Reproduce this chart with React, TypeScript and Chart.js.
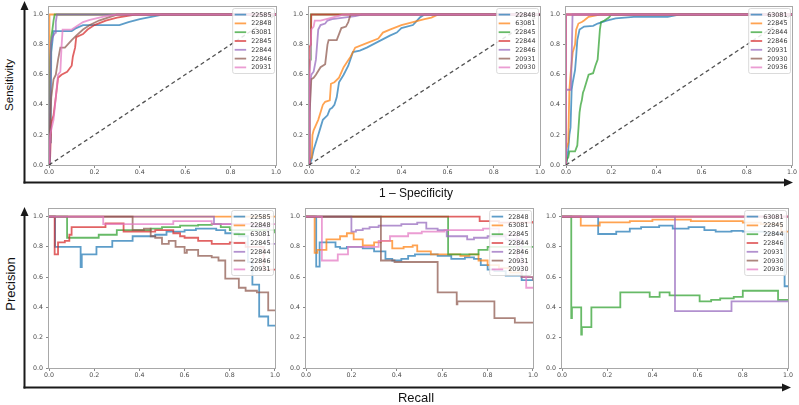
import React, { useEffect, useRef } from "react";
import { Chart, registerables } from "chart.js";

Chart.register(...registerables);

// ---------- shared axis data ----------
const AXIS_TICKS = [0, 0.2, 0.4, 0.6, 0.8, 1.0];
const X_RANGE = [0, 1];
const Y_RANGE = [0, 1.05];
const CHANCE_LINE = [
  [0, 0],
  [1, 1],
];
const SERIES_RGB = [
  "31,119,180",
  "255,127,14",
  "44,160,44",
  "214,39,40",
  "148,103,189",
  "140,86,75",
  "227,119,194",
];

// ---------- ROC panel A ----------
const ROC_A_LABELS = ["22585", "22848", "63081", "22845", "22844", "22846", "20931"];
const ROC_A_CURVES = [
  [[0, 0], [0.005, 0.15], [0.008, 0.4], [0.01, 0.75], [0.015, 0.82], [0.02, 0.89], [0.1, 0.89], [0.12, 0.91], [0.15, 0.93], [0.31, 0.93], [0.35, 0.95], [0.4, 0.97], [0.45, 0.985], [0.5, 1], [1, 1]],
  [[0, 0], [0, 0.95], [0.004, 1], [1, 1]],
  [[0, 0], [0.003, 0.3], [0.006, 0.7], [0.01, 0.85], [0.015, 0.9], [0.02, 0.96], [0.025, 1], [1, 1]],
  [[0, 0], [0.005, 0.05], [0.01, 0.28], [0.02, 0.33], [0.03, 0.45], [0.04, 0.58], [0.055, 0.6], [0.08, 0.62], [0.1, 0.66], [0.105, 0.72], [0.115, 0.78], [0.12, 0.85], [0.15, 0.87], [0.17, 0.9], [0.2, 0.93], [0.25, 0.96], [0.3, 0.98], [0.38, 1], [1, 1]],
  [[0, 0], [0.004, 0.3], [0.008, 0.8], [0.015, 0.85], [0.02, 0.86], [0.028, 0.88], [0.03, 0.95], [0.035, 1], [1, 1]],
  [[0, 0], [0.005, 0.25], [0.01, 0.45], [0.02, 0.57], [0.03, 0.6], [0.04, 0.7], [0.05, 0.78], [0.07, 0.78], [0.1, 0.83], [0.12, 0.86], [0.15, 0.9], [0.18, 0.93], [0.22, 0.96], [0.3, 1], [1, 1]],
  [[0, 0], [0.005, 0.2], [0.02, 0.3], [0.03, 0.45], [0.04, 0.6], [0.05, 0.62], [0.055, 0.78], [0.06, 0.9], [0.1, 0.9], [0.13, 0.93], [0.15, 0.95], [0.18, 0.965], [0.25, 0.99], [0.3, 1], [1, 1]],
];

// ---------- ROC panel B ----------
const ROC_B_LABELS = ["22848", "63081", "22845", "22844", "22846", "20931", "20930"];
const ROC_B_CURVES = [
  [[0, 0], [0.01, 0.03], [0.02, 0.1], [0.03, 0.15], [0.04, 0.2], [0.05, 0.25], [0.06, 0.3], [0.08, 0.33], [0.09, 0.37], [0.1, 0.38], [0.11, 0.4], [0.12, 0.45], [0.13, 0.55], [0.15, 0.6], [0.17, 0.66], [0.19, 0.75], [0.22, 0.76], [0.25, 0.78], [0.3, 0.82], [0.35, 0.86], [0.38, 0.88], [0.4, 0.91], [0.45, 0.93], [0.48, 0.98], [0.5, 1], [1, 1]],
  [[0, 0], [0.005, 0.04], [0.012, 0.05], [0.015, 0.2], [0.02, 0.23], [0.04, 0.3], [0.06, 0.4], [0.07, 0.42], [0.09, 0.43], [0.095, 0.54], [0.11, 0.55], [0.13, 0.58], [0.15, 0.65], [0.18, 0.72], [0.2, 0.78], [0.25, 0.81], [0.3, 0.84], [0.32, 0.88], [0.35, 0.9], [0.4, 0.93], [0.45, 0.95], [0.5, 0.97], [0.53, 0.98], [0.56, 1], [1, 1]],
  [[0, 0], [0, 0.6], [0.005, 0.7], [0.008, 1], [1, 1]],
  [[0, 0], [0, 0.78], [0.008, 0.8], [0.01, 1], [1, 1]],
  [[0, 0], [0.003, 0.3], [0.006, 0.55], [0.01, 0.6], [0.02, 0.62], [0.03, 0.7], [0.035, 0.8], [0.04, 0.9], [0.05, 0.93], [0.07, 0.94], [0.08, 0.96], [0.1, 0.97], [0.15, 0.98], [0.2, 0.99], [0.23, 1], [1, 1]],
  [[0, 0], [0.003, 0.35], [0.01, 0.57], [0.02, 0.58], [0.03, 0.6], [0.05, 0.65], [0.07, 0.67], [0.08, 0.8], [0.085, 0.83], [0.12, 0.83], [0.13, 0.87], [0.14, 0.91], [0.16, 0.92], [0.17, 0.95], [0.18, 1], [1, 1]],
  [[0, 0], [0, 0.2], [0.003, 0.5], [0.01, 0.9], [0.02, 0.92], [0.025, 0.96], [0.05, 0.96], [0.1, 0.98], [0.15, 1], [1, 1]],
];

// ---------- ROC panel C ----------
const ROC_C_LABELS = ["63081", "22845", "22844", "22846", "20931", "20930", "20936"];
const ROC_C_CURVES = [
  [[0, 0], [0.01, 0.1], [0.015, 0.2], [0.02, 0.25], [0.025, 0.5], [0.03, 0.55], [0.04, 0.63], [0.045, 0.72], [0.05, 0.83], [0.06, 0.9], [0.08, 0.92], [0.12, 0.925], [0.14, 0.94], [0.18, 0.96], [0.22, 0.975], [0.3, 0.985], [0.45, 0.985], [0.5, 1], [1, 1]],
  [[0, 0], [0, 0.1], [0.01, 0.15], [0.015, 0.5], [0.02, 0.6], [0.03, 0.75], [0.04, 0.8], [0.045, 0.9], [0.055, 0.94], [0.07, 0.95], [0.08, 0.96], [0.1, 0.985], [0.15, 1], [1, 1]],
  [[0, 0], [0.005, 0.04], [0.01, 0.05], [0.015, 0.09], [0.04, 0.09], [0.05, 0.13], [0.06, 0.35], [0.065, 0.4], [0.07, 0.43], [0.075, 0.48], [0.08, 0.5], [0.09, 0.55], [0.1, 0.6], [0.12, 0.61], [0.13, 0.66], [0.14, 0.7], [0.145, 0.8], [0.15, 0.9], [0.155, 0.95], [0.17, 0.96], [0.19, 0.98], [0.2, 1], [1, 1]],
  [[0, 0], [0, 1], [1, 1]],
  [[0, 0], [0, 0.5], [0.022, 0.5], [0.029, 1], [1, 1]],
  [[0, 0], [0, 1], [1, 1]],
  [[0, 0], [0, 1], [1, 1]],
];

// ---------- PR panel A ----------
const PR_A_LABELS = ROC_A_LABELS;
const PR_A_CURVES = [
  [[0, 1], [0.027, 0.8], [0.14, 0.667], [0.145, 0.75], [0.21, 0.8], [0.28, 0.84], [0.37, 0.87], [0.47, 0.88], [0.52, 0.9], [0.6, 0.91], [0.65, 0.92], [0.74, 0.91], [0.78, 0.89], [0.84, 0.87], [0.88, 0.7], [0.9, 0.55], [0.93, 0.34], [0.97, 0.28], [1, 0.28]],
  [[0, 1], [1, 1]],
  [[0, 1], [0.08, 0.86], [0.22, 0.88], [0.3, 0.91], [0.45, 0.92], [0.5, 0.93], [0.58, 0.94], [0.66, 0.945], [0.72, 0.95], [0.76, 0.93], [0.8, 0.91], [1, 0.89]],
  [[0, 1], [0.025, 0.75], [0.04, 0.83], [0.07, 0.84], [0.09, 0.88], [0.1, 0.93], [0.25, 0.955], [0.33, 0.9], [0.47, 0.91], [0.55, 0.89], [0.58, 0.87], [0.6, 0.86], [0.66, 0.84], [0.72, 0.82], [0.8, 0.83], [0.87, 0.8], [0.95, 0.65], [1, 0.65]],
  [[0, 1], [0.73, 0.95], [0.9, 0.93], [0.97, 0.82], [1, 0.82]],
  [[0, 1], [0.37, 0.91], [0.42, 0.92], [0.45, 0.87], [0.47, 0.86], [0.5, 0.82], [0.53, 0.84], [0.56, 0.8], [0.6, 0.76], [0.61, 0.78], [0.66, 0.74], [0.72, 0.73], [0.75, 0.71], [0.78, 0.59], [0.84, 0.53], [0.87, 0.51], [0.92, 0.5], [0.97, 0.38], [1, 0.38]],
  [[0, 1], [0.24, 0.95], [0.55, 0.97], [0.72, 0.95], [1, 0.95]],
];

// ---------- PR panel B ----------
const PR_B_LABELS = ROC_B_LABELS;
const PR_B_CURVES = [
  [[0, 1], [0.045, 0.67], [0.06, 0.83], [0.13, 0.8], [0.15, 0.79], [0.18, 0.8], [0.25, 0.79], [0.3, 0.77], [0.35, 0.72], [0.38, 0.71], [0.42, 0.72], [0.45, 0.74], [0.48, 0.75], [0.58, 0.74], [0.64, 0.72], [0.7, 0.73], [0.74, 0.72], [0.77, 0.68], [0.8, 0.65], [0.83, 0.64], [0.88, 0.61], [0.95, 0.58], [1, 0.58]],
  [[0, 1], [0.038, 0.76], [0.05, 0.78], [0.09, 0.85], [0.15, 0.87], [0.18, 0.89], [0.21, 0.85], [0.25, 0.81], [0.3, 0.83], [0.33, 0.84], [0.38, 0.79], [0.43, 0.8], [0.47, 0.81], [0.49, 0.77], [0.55, 0.75], [0.62, 0.75], [0.68, 0.74], [0.72, 0.75], [0.76, 0.71], [0.8, 0.68], [0.85, 0.66], [0.9, 0.63], [0.95, 0.6], [1, 0.58]],
  [[0, 1], [0.626, 0.75], [0.76, 0.78], [0.8, 0.8], [1, 0.8]],
  [[0, 1], [0.765, 0.97], [0.85, 0.96], [1, 0.97]],
  [[0, 1], [0.2, 0.9], [0.22, 0.91], [0.25, 0.92], [0.28, 0.93], [0.32, 0.94], [0.42, 0.95], [0.49, 0.96], [0.53, 0.92], [0.58, 0.91], [0.62, 0.87], [0.71, 0.85], [0.74, 0.86], [0.8, 0.87], [0.88, 0.85], [0.95, 0.6], [1, 0.58]],
  [[0, 1], [0.33, 0.71], [0.39, 0.7], [0.58, 0.5], [0.664, 0.42], [0.667, 0.44], [0.83, 0.33], [0.92, 0.3], [1, 0.3]],
  [[0, 1], [0.07, 0.71], [0.14, 0.75], [0.185, 0.8], [0.32, 0.84], [0.37, 0.87], [0.45, 0.89], [0.51, 0.9], [0.61, 0.91], [0.78, 0.92], [0.85, 0.88], [0.93, 0.7], [0.97, 0.53], [1, 0.53]],
];

// ---------- PR panel C ----------
const PR_C_LABELS = ROC_C_LABELS;
const PR_C_CURVES = [
  [[0, 1], [0.16, 0.885], [0.24, 0.9], [0.3, 0.92], [0.35, 0.93], [0.43, 0.94], [0.49, 0.92], [0.56, 0.93], [0.63, 0.91], [0.68, 0.9], [0.75, 0.905], [0.8, 0.9], [0.9, 0.89], [0.985, 0.54], [1, 0.54]],
  [[0, 1], [0.083, 0.94], [0.167, 0.962], [0.3, 0.97], [0.4, 0.98], [0.57, 0.97], [0.8, 0.96], [0.88, 0.95], [0.97, 0.9], [1, 0.9]],
  [[0, 1], [0.041, 0.33], [0.044, 0.4], [0.085, 0.22], [0.088, 0.27], [0.13, 0.4], [0.258, 0.5], [0.388, 0.47], [0.432, 0.5], [0.476, 0.48], [0.609, 0.44], [0.66, 0.45], [0.7, 0.46], [0.76, 0.47], [0.8, 0.51], [0.956, 0.45], [1, 0.45]],
  [[0, 1], [1, 1]],
  [[0, 1], [0.5, 0.375], [0.75, 0.44], [1, 0.44]],
  [[0, 1], [1, 1]],
  [[0, 1], [1, 1]],
];

const PANELS = [
  { kind: "roc", labels: ROC_A_LABELS, curves: ROC_A_CURVES },
  { kind: "roc", labels: ROC_B_LABELS, curves: ROC_B_CURVES },
  { kind: "roc", labels: ROC_C_LABELS, curves: ROC_C_CURVES },
  { kind: "pr", labels: PR_A_LABELS, curves: PR_A_CURVES },
  { kind: "pr", labels: PR_B_LABELS, curves: PR_B_CURVES },
  { kind: "pr", labels: PR_C_LABELS, curves: PR_C_CURVES },
];

// plot-area boxes in page pixels (layout only)
const PANEL_BOXES = [
  { l: 49, r: 276, t: 7, b: 165 },
  { l: 309, r: 540, t: 7, b: 165 },
  { l: 566, r: 792, t: 7, b: 165 },
  { l: 49, r: 275, t: 209, b: 368 },
  { l: 306, r: 533, t: 209, b: 368 },
  { l: 562, r: 788, t: 209, b: 368 },
];

const Y_AXIS_W = 30;
const X_AXIS_H = 14;
const PAD_T = 7;
const PAD_R = 6;

const TICK_FONT = { family: "'DejaVu Sans', sans-serif", size: 6.3 };
const LINE_ALPHA = 0.72;

const framePlugin = {
  id: "axesFrame",
  afterDatasetsDraw(chart: any) {
    const { ctx, chartArea: a } = chart;
    ctx.save();
    ctx.strokeStyle = "#a8a8a8";
    ctx.lineWidth = 1;
    const l = Math.round(a.left) - 0.5;
    const t = Math.round(a.top) - 0.5;
    const r = Math.round(a.right) + 0.5;
    const b = Math.round(a.bottom) + 0.5;
    ctx.strokeRect(l, t, r - l, b - t);
    ctx.restore();
  },
};

const legendPlugin = {
  id: "miniLegend",
  afterDraw(chart: any, _args: any, opts: any) {
    const { ctx, chartArea: a } = chart;
    const labels: string[] = opts.labels || [];
    const colors: string[] = opts.colors || [];
    ctx.save();
    ctx.font = "6.4px 'DejaVu Sans', sans-serif";
    const tw = Math.max(...labels.map((s) => ctx.measureText(s).width));
    const rowH = 8.8;
    const lineLen = 11.5;
    const gap = 5;
    const padX = 2;
    const padY = 1.2;
    const w = padX + lineLen + gap + tw + padX + 1;
    const h = rowH * labels.length + 2 * padY + 1;
    const x0 = a.right - 1.5 - w;
    const y0 = a.top + 1.5;
    ctx.beginPath();
    if ((ctx as any).roundRect) (ctx as any).roundRect(x0, y0, w, h, 2);
    else ctx.rect(x0, y0, w, h);
    ctx.fillStyle = "rgba(255,255,255,0.85)";
    ctx.fill();
    ctx.strokeStyle = "#d2d2d2";
    ctx.lineWidth = 0.8;
    ctx.stroke();
    labels.forEach((lab, i) => {
      const cy = y0 + padY + rowH * (i + 0.5) + 0.5;
      ctx.beginPath();
      ctx.strokeStyle = colors[i];
      ctx.lineWidth = 1.8;
      ctx.moveTo(x0 + padX, cy);
      ctx.lineTo(x0 + padX + lineLen, cy);
      ctx.stroke();
      ctx.fillStyle = "#3a3a3a";
      ctx.textBaseline = "middle";
      ctx.textAlign = "left";
      ctx.fillText(lab, x0 + padX + lineLen + gap, cy + 0.3);
    });
    ctx.restore();
  },
};

function ChartPanel({ panel, box }: { panel: any; box: any }) {
  const ref = useRef<HTMLCanvasElement | null>(null);
  const left = box.l - Y_AXIS_W;
  const top = box.t - PAD_T;
  const width = Math.round(box.r + PAD_R - left);
  const height = Math.round(box.b + X_AXIS_H - top);

  useEffect(() => {
    if (!ref.current) return;
    const colors = panel.curves.map((_: any, i: number) => `rgba(${SERIES_RGB[i]},${LINE_ALPHA})`);
    const datasets: any[] = panel.curves.map((pts: number[][], i: number) => ({
      label: panel.labels[i],
      data: pts.map(([x, y]) => ({ x, y })),
      borderColor: colors[i],
      backgroundColor: colors[i],
      borderWidth: 1.8,
      pointRadius: 0,
      fill: false,
      tension: 0,
      stepped: panel.kind === "pr" ? "before" : false,
      order: panel.curves.length - i + 1,
    }));
    if (panel.kind === "roc") {
      datasets.push({
        label: "chance",
        data: CHANCE_LINE.map(([x, y]) => ({ x, y })),
        borderColor: "rgba(50,50,50,0.85)",
        borderWidth: 1.3,
        borderDash: [4, 3],
        pointRadius: 0,
        fill: false,
        order: 0,
      });
    }
    const tickCb = (v: any) => Number(v).toFixed(1);
    const setTicks = (s: any) => {
      s.ticks = AXIS_TICKS.map((v) => ({ value: v }));
    };
    const chart = new Chart(ref.current, {
      type: "line",
      data: { datasets },
      options: {
        responsive: false,
        animation: false,
        devicePixelRatio: 1,
        events: [],
        layout: { padding: { left: 0, right: PAD_R, top: PAD_T, bottom: 0 } },
        plugins: {
          legend: { display: false },
          tooltip: { enabled: false },
          miniLegend: { labels: panel.labels, colors },
        } as any,
        scales: {
          x: {
            type: "linear",
            min: X_RANGE[0],
            max: X_RANGE[1],
            afterBuildTicks: setTicks,
            afterFit: (s: any) => {
              s.height = X_AXIS_H;
            },
            ticks: {
              font: TICK_FONT,
              color: "#4a4a4a",
              padding: 1,
              maxRotation: 0,
              autoSkip: false,
              callback: tickCb,
            },
            grid: { display: true, drawOnChartArea: false, drawTicks: true, tickLength: 3, color: "#888" },
            border: { display: false },
          },
          y: {
            type: "linear",
            min: Y_RANGE[0],
            max: Y_RANGE[1],
            afterBuildTicks: setTicks,
            afterFit: (s: any) => {
              s.width = Y_AXIS_W;
            },
            ticks: {
              font: TICK_FONT,
              color: "#4a4a4a",
              padding: 3,
              autoSkip: false,
              callback: tickCb,
            },
            grid: { display: true, drawOnChartArea: false, drawTicks: true, tickLength: 3, color: "#888" },
            border: { display: false },
          },
        } as any,
      } as any,
      plugins: [framePlugin, legendPlugin],
    } as any);
    return () => chart.destroy();
  }, []);

  return (
    <canvas
      ref={ref}
      width={width}
      height={height}
      style={{ position: "absolute", left, top, width, height }}
    />
  );
}

const labelBase: React.CSSProperties = {
  position: "absolute",
  whiteSpace: "nowrap",
  color: "#111",
  fontFamily: "'Liberation Sans', Arial, sans-serif",
  lineHeight: 1,
};

export default function App() {
  return (
    <div
      style={{
        position: "fixed",
        left: 0,
        top: 0,
        width: 799,
        height: 405,
        background: "#fff",
        overflow: "hidden",
      }}
    >
      <svg width={799} height={405} style={{ position: "absolute", left: 0, top: 0 }}>
        <g stroke="#1a1a1a" strokeWidth={2} fill="none">
          <line x1={24.5} y1={183.5} x2={24.5} y2={8} />
          <line x1={23.5} y1={182.5} x2={785} y2={182.5} />
          <line x1={24.5} y1={388.5} x2={24.5} y2={215} />
          <line x1={23.5} y1={387.5} x2={783} y2={387.5} />
        </g>
        <g fill="#1a1a1a">
          <polygon points="24.5,1 20.5,10 28.5,10" />
          <polygon points="793,182.5 784,178.5 784,186.5" />
          <polygon points="24.5,207 20.5,216 28.5,216" />
          <polygon points="791,387.5 782,383.5 782,391.5" />
        </g>
      </svg>
      {PANELS.map((p, i) => (
        <ChartPanel key={i} panel={p} box={PANEL_BOXES[i]} />
      ))}
      <div style={{ ...labelBase, left: 10, top: 85, fontSize: 11.5, transform: "translate(-50%,-50%) rotate(-90deg)" }}>
        Sensitivity
      </div>
      <div style={{ ...labelBase, left: 416, top: 193, fontSize: 12, transform: "translate(-50%,-50%)" }}>
        1 – Specificity
      </div>
      <div style={{ ...labelBase, left: 10, top: 284, fontSize: 13, transform: "translate(-50%,-50%) rotate(-90deg)" }}>
        Precision
      </div>
      <div style={{ ...labelBase, left: 416, top: 397, fontSize: 13, transform: "translate(-50%,-50%)" }}>
        Recall
      </div>
    </div>
  );
}
